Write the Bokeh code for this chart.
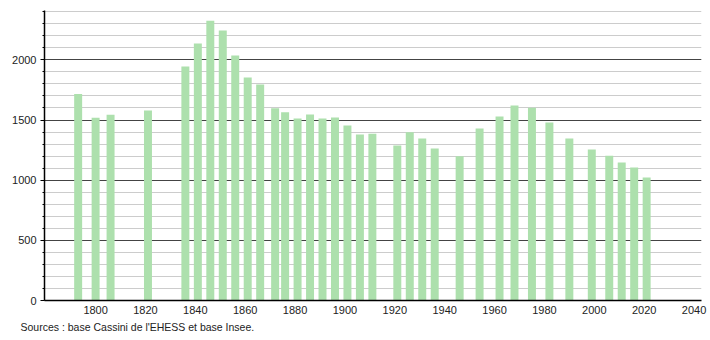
from bokeh.plotting import figure
from bokeh.models import Range1d, SingleIntervalTicker, Title, FixedTicker
from bokeh.embed import file_html
from bokeh.resources import INLINE

years = [1793, 1800, 1806, 1821, 1836, 1841, 1846, 1851, 1856, 1861, 1866,
         1872, 1876, 1881, 1886, 1891, 1896, 1901, 1906, 1911, 1921, 1926,
         1931, 1936, 1946, 1954, 1962, 1968, 1975, 1982, 1990, 1999, 2006,
         2011, 2016, 2021]
population = [1717, 1518, 1543, 1579, 1944, 2135, 2324, 2243, 2036, 1853, 1795,
              1598, 1565, 1512, 1545, 1512, 1521, 1454, 1379, 1385, 1288, 1399,
              1346, 1263, 1199, 1429, 1529, 1620, 1601, 1479, 1346, 1255, 1202,
              1147, 1105, 1022]
x_ticks = [1800, 1820, 1840, 1860, 1880, 1900, 1920, 1940, 1960, 1980, 2000, 2020, 2040]
source_text = "Sources : base Cassini de l'EHESS et base Insee."

FONT = "Liberation Sans"

p = figure(frame_width=657, frame_height=290, output_backend="svg", toolbar_location=None,
           x_range=Range1d(1779.5, 2043), y_range=Range1d(0, 2410),
           min_border_left=44, min_border_right=9, min_border_top=10,
           min_border_bottom=40)
p.outline_line_color = None
p.background_fill_color = "white"

p.vbar(x=years, top=population, width=3.2, color="#ade0ad", line_color=None)

# Y axis
p.yaxis.ticker = SingleIntervalTicker(interval=500, num_minor_ticks=5)
p.yaxis.axis_line_color = "black"
p.yaxis.axis_line_width = 1.5
p.yaxis.major_tick_out = 4
p.yaxis.major_tick_in = 0
p.yaxis.minor_tick_out = 2
p.yaxis.minor_tick_in = 0
p.yaxis.major_tick_line_color = "black"
p.yaxis.minor_tick_line_color = "black"
p.yaxis.major_label_text_font = FONT
p.yaxis.major_label_text_font_size = "11px"
p.yaxis.major_label_text_color = "#222222"
p.yaxis.major_label_standoff = 4

# X axis
p.xaxis.ticker = FixedTicker(ticks=x_ticks)
p.xaxis.axis_line_color = "black"
p.xaxis.axis_line_width = 1.5
p.xaxis.major_tick_out = 0
p.xaxis.major_tick_in = 0
p.xaxis.minor_tick_line_color = None
p.xaxis.major_label_text_font = FONT
p.xaxis.major_label_text_font_size = "11px"
p.xaxis.major_label_text_color = "#222222"
p.xaxis.major_label_standoff = 5

# Grids
p.xgrid.grid_line_color = None
p.ygrid.grid_line_color = "#444444"
p.ygrid.grid_line_width = 1
p.ygrid.minor_grid_line_color = "#cccccc"
p.ygrid.minor_grid_line_width = 1
p.ygrid.level = "underlay"

t = Title(text=source_text, align="left", text_font=FONT, text_font_size="10.5px",
          text_font_style="normal", text_color="#222222", offset=-24, standoff=4)
p.add_layout(t, "below")

open("out.html", "w").write(file_html(p, INLINE))
